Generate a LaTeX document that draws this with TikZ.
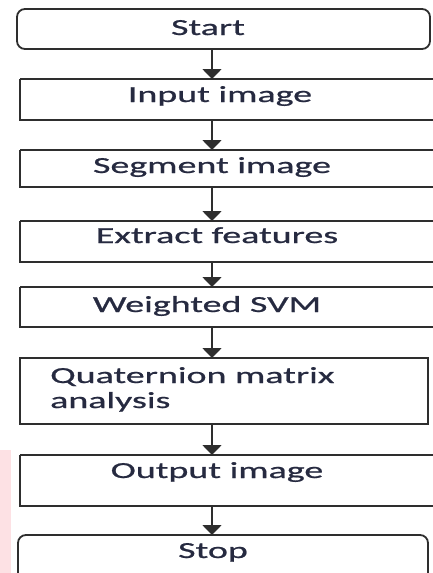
\documentclass[tikz,border=0pt]{standalone}
\usepackage{fontspec}
\newfontfamily\boxfont[FakeStretch=1.65,FakeBold=0.8]{Carlito}
\usetikzlibrary{arrows.meta}
\definecolor{edge}{HTML}{2E2E2E}
\definecolor{ink}{HTML}{262A40}
\definecolor{blush}{HTML}{FDE1E4}
\tikzset{
  stepbox/.style={draw=edge, line width=1.8pt},
  termbox/.style={stepbox, rounded corners=8pt},
  txt/.style={font=\boxfont\fontsize{23}{27}\selectfont, text=ink, inner sep=0pt, anchor=base},
  txtl/.style={txt, anchor=base west},
  flow/.style={draw=edge, line width=1.8pt, -{Triangle[width=19pt,length=10pt]}}
}
\begin{document}
\begin{tikzpicture}[x=1pt,y=-1pt]
\useasboundingbox (0,0) rectangle (433,573);
\fill[blush] (0,450) rectangle (11,573);
% boxes
\draw[termbox] (17,9) rectangle (430,49);
\draw[stepbox] (20,79) -- (436,79) (20,79) -- (20,120) -- (436,120);
\draw[stepbox] (20,150) -- (436,150) (20,150) -- (20,187) -- (436,187);
\draw[stepbox] (20,221) -- (436,221) (20,221) -- (20,262) -- (436,262);
\draw[stepbox] (20,287) -- (436,287) (20,287) -- (20,327) -- (436,327);
\draw[stepbox] (20,358) rectangle (428,424);
\draw[stepbox] (20,455) -- (436,455) (20,455) -- (20,506) -- (436,506);
\draw[termbox] (18,585) -- (18,535) -- (428,535) -- (428,585);
% anchor coordinates for connectors
\coordinate (b1) at (212,49);
\coordinate (t2) at (212,79);
\coordinate (b2) at (212,120);
\coordinate (t3) at (212,150);
\coordinate (b3) at (212,187);
\coordinate (t4) at (212,221);
\coordinate (b4) at (212,262);
\coordinate (t5) at (212,287);
\coordinate (b5) at (212,327);
\coordinate (t6) at (212,358);
\coordinate (b6) at (212,424);
\coordinate (t7) at (212,455);
\coordinate (b7) at (212,506);
\coordinate (t8) at (212,535);
% labels
\node[txt] (l1) at (208,35) {Start};
\node[txt] (l2) at (220,102) {Input image};
\node[txt] (l3) at (212,173) {Segment image};
\node[txt] (l4) at (217,243) {Extract features};
\node[txt] (l5) at (207,312) {Weighted SVM};
\node[txtl] (l6) at (50,383) {Quaternion matrix};
\node[txtl] (l6b) at (50,408) {analysis};
\node[txt] (l7) at (217,478) {Output image};
\node[txt] (l8) at (213,558) {Stop};
% connectors
\draw[flow] (b1) -- (t2);
\draw[flow] (b2) -- (t3);
\draw[flow] (b3) -- (t4);
\draw[flow] (b4) -- (t5);
\draw[flow] (b5) -- (t6);
\draw[flow] (b6) -- (t7);
\draw[flow] (b7) -- (t8);
\end{tikzpicture}
\end{document}
